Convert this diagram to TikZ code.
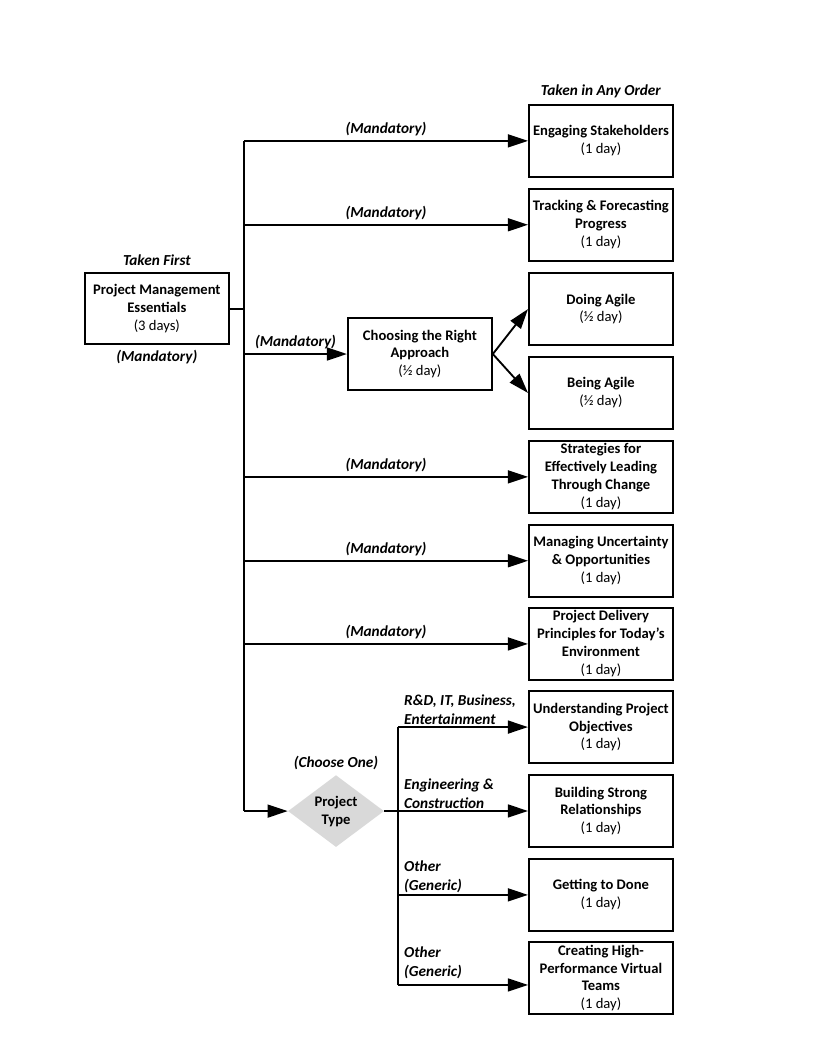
\documentclass[tikz,border=0pt]{standalone}
\usepackage{fontspec}
\setmainfont{Carlito}
\usepackage{tikz}
\usetikzlibrary{arrows.meta, positioning, shapes.geometric}
\definecolor{ltgray}{HTML}{D9D9D9}
\tikzset{
  course/.style={draw=black, line width=1.4pt, anchor=north west, align=center,
                 minimum width=3.81cm, minimum height=1.905cm, inner sep=1pt,
                 font=\fontsize{11}{13.5}\selectfont},
  choice/.style={diamond, fill=ltgray, aspect=1.33, minimum width=2.54cm, minimum height=1.9cm,
                 inner sep=0pt, align=center, font=\fontsize{11}{13.5}\selectfont\bfseries},
  lbl/.style={font=\fontsize{11.5}{14.5}\selectfont\bfseries\itshape},
  blbl/.style={lbl, align=left, anchor=south west, inner xsep=4pt, inner ysep=1pt},
  ln/.style={line width=1.4pt},
  arr/.style={-{Triangle[length=5.3mm,width=3.4mm]}, line width=1.4pt},
}

\begin{document}
\begin{tikzpicture}[x=1cm, y=1cm]
  \useasboundingbox (0,0) rectangle (21.59,-27.94);
  % ---------------- first course ----------------
  \node[course, minimum height=1.88cm] (ess) at (2.22,-7.20)
    {\textbf{Project Management}\\\textbf{Essentials}\\(3 days)};
  \node[lbl, above=1pt of ess] (first) {Taken First};
  \node[lbl, below=0pt of ess] (essm) {(Mandatory)};

  % ---------------- courses in any order ----------------
  \node[course] (eng) at (13.97,-2.75) {\textbf{Engaging Stakeholders}\\(1 day)};
  \node[lbl, above=1pt of eng] (anyord) {Taken in Any Order};
  \node[course] (trk) at (13.97,-4.97) {\textbf{Tracking \& Forecasting}\\\textbf{Progress}\\(1 day)};
  \node[course] (doa) at (13.97,-7.20) {\textbf{Doing Agile}\\(½ day)};
  \node[course] (bea) at (13.97,-9.42) {\textbf{Being Agile}\\(½ day)};
  \node[course] (chg) at (13.97,-11.64)
    {\textbf{Strategies for}\\\textbf{Effectively Leading}\\\textbf{Through Change}\\(1 day)};
  \node[course] (unc) at (13.97,-13.86) {\textbf{Managing Uncertainty}\\\textbf{\& Opportunities}\\(1 day)};
  \node[course] (del) at (13.97,-16.06)
    {\textbf{Project Delivery}\\\textbf{Principles for Today’s}\\\textbf{Environment}\\(1 day)};
  \node[course] (obj) at (13.97,-18.26) {\textbf{Understanding Project}\\\textbf{Objectives}\\(1 day)};
  \node[course] (rel) at (13.97,-20.48) {\textbf{Building Strong}\\\textbf{Relationships}\\(1 day)};
  \node[course] (gtd) at (13.97,-22.70) {\textbf{Getting to Done}\\(1 day)};
  \node[course] (vir) at (13.97,-24.90)
    {\textbf{Creating High-}\\\textbf{Performance Virtual}\\\textbf{Teams}\\(1 day)};

  % ---------------- approach and project type ----------------
  \node[course] (app) at (9.18,-8.39) {\textbf{Choosing the Right}\\\textbf{Approach}\\(½ day)};
  \node[choice] (ptype) at (8.89,-21.46) {Project\\Type};
  \node[lbl, above=0pt of ptype] (one) {(Choose One)};

  \coordinate (tr) at (6.456,0);
  \coordinate (br) at (10.53,0);
  \coordinate (last) at (10.53,-26.06);

  % ---------------- connectors ----------------
  \draw[ln] (ess.east) -- (ess.east -| tr);
  \draw[ln] (eng.west -| tr) -- (ptype.west -| tr);
  \foreach \c in {eng, trk, chg, unc, del}
    \draw[arr] (\c.west -| tr) -- node[lbl, above] {(Mandatory)} (\c.west);
  \draw[arr] (app.west -| tr) -- node[lbl, above] {(Mandatory)} (app.west);
  \draw[arr] (app.east) -- (doa.west);
  \draw[arr] (app.east) -- (bea.west);
  \draw[arr] (ptype.west -| tr) -- (ptype.west);

  \draw[ln] (ptype.east) -- (ptype.east -| br);
  \draw[ln] (obj.west -| br) -- (last);
  \draw[arr] (obj.west -| br) node[blbl] {R\&D, IT, Business,\\Entertainment} -- (obj.west);
  \draw[arr] (rel.west -| br) node[blbl] {Engineering \&\\Construction} -- (rel.west);
  \draw[arr] (gtd.west -| br) node[blbl] {Other\\(Generic)} -- (gtd.west);
  \draw[arr] (last) node[blbl, yshift=3pt] {Other\\(Generic)} -- (last -| vir.west);
\end{tikzpicture}
\end{document}
